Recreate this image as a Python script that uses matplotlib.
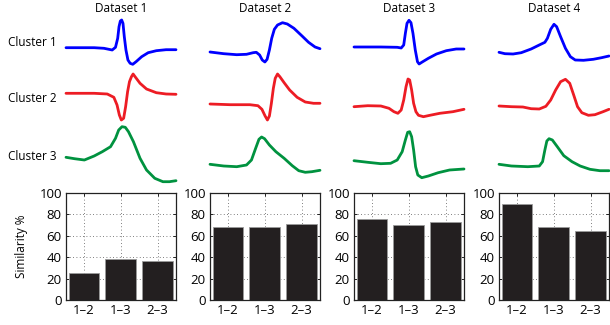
import matplotlib
matplotlib.use("Agg")
import matplotlib.pyplot as plt

plt.rcParams['font.family'] = ['Open Sans', 'DejaVu Sans']

datasets = ["Dataset 1", "Dataset 2", "Dataset 3", "Dataset 4"]
clusters = ["Cluster 1", "Cluster 2", "Cluster 3"]
pairs = ["1\u20132", "1\u20133", "2\u20133"]
cluster_colors = ["#0000ff", "#ed1c24", "#00923f"]

# Similarity between cluster pairs (%)
similarity = [
    [25.5, 38.0, 36.0],
    [68.0, 68.0, 71.0],
    [76.0, 70.5, 72.5],
    [90.0, 68.0, 64.5],
]

# Mean waveforms: time (% of window) and amplitude (a.u.)
d1_c1_t = [0, 25.6, 34.5, 42, 45, 47, 48.2, 49.4, 50.6, 51.8, 53, 54.5, 56.3, 58.3, 60.7, 63.7, 68.8, 74.7, 82.1, 91, 100]
d1_c1_a = [-5.7, -5.7, -6.3, -8, -5.3, 3.7, 15.3, 21, 22, 18.7, 5.3, -8, -18, -21.3, -22.3, -19.7, -14.7, -10.7, -8.7, -7.7, -7.7]
d1_c2_t = [0, 25.6, 37.5, 43.5, 46.4, 48.5, 50.3, 52.4, 54.2, 56, 57.7, 59.5, 61, 62.8, 67.3, 73.2, 82.1, 91, 100]
d1_c2_a = [3.7, 3.7, 3, -0.3, -8, -18, -23, -21.3, -9.7, 5.3, 15.3, 20.3, 23, 20.3, 13.7, 8, 4.3, 3, 2.7]
d1_c3_t = [0, 7.7, 16.7, 25.6, 33, 40.5, 45, 47.9, 50.9, 53.9, 56.8, 61.3, 67.3, 73.2, 80.7, 88.1, 94, 100]
d1_c3_a = [-2.3, -3.7, -5, -1, 3.3, 8.3, 16.7, 25, 28.3, 27.7, 23.3, 13.3, -3.3, -15, -23.3, -26.7, -26.7, -25.7]

d2_c1_t = [0, 12.5, 24.3, 33.2, 39.2, 42.1, 45.1, 47.5, 49.9, 51.9, 54, 56.1, 58.5, 61.4, 65.9, 70.3, 76.3, 83.7, 89.6, 95.5, 100]
d2_c1_a = [-10, -11.7, -12.7, -12.3, -10.7, -10.3, -13, -18, -20, -17.3, -8, 3.7, 12.7, 17, 19.3, 18, 13.7, 6, -0.3, -5, -6.7]
d2_c2_t = [0, 18.4, 36.2, 43.6, 47.2, 50.1, 52.2, 54, 55.8, 57.6, 59.3, 61.4, 63.5, 67.4, 72.4, 79.2, 86.6, 94.1, 100]
d2_c2_a = [-7, -7.7, -7.7, -8.7, -12.3, -19, -23, -19, -6.3, 8.7, 18.7, 23, 20.3, 14.3, 7, -0.3, -5, -6.3, -6.3]
d2_c3_t = [0, 12.5, 24.3, 33.2, 37.7, 41.5, 44.5, 46.9, 49.6, 54, 59.9, 67.4, 74.8, 80.7, 86.6, 92.6, 100]
d2_c3_a = [-9.3, -11, -11.7, -10, -5, 6.7, 15.7, 18, 16.3, 10, 3.3, -3.3, -10.7, -15.7, -17.3, -16.7, -15.3]

d3_c1_t = [0, 24.4, 39.3, 42.9, 45.2, 46.7, 48.2, 50, 51.8, 53.6, 55.7, 57.7, 59.2, 61.6, 67.6, 75, 83.9, 92.9, 100]
d3_c1_a = [-5, -5, -5.3, -6, -3, 8.7, 18.7, 21.7, 19.3, 8.7, -8, -19.7, -22, -20.3, -16.3, -12, -8.7, -7, -7]
d3_c2_t = [0, 12.5, 24.4, 31.8, 36.3, 39.9, 42.9, 45.2, 47.3, 49.1, 50.6, 52.4, 54.2, 56.3, 58.6, 63.1, 69, 78, 89.9, 100]
d3_c2_a = [-9.7, -8.7, -9, -11.3, -14.7, -16.3, -13, -3, 10.3, 18, 17, 7, -6.3, -14.7, -18.3, -19.7, -18.3, -16.3, -14.7, -12.3]
d3_c3_t = [0, 12.5, 24.4, 33.3, 39.3, 43.8, 46.7, 48.8, 50.6, 52.4, 54.2, 56, 58, 61.6, 67.6, 76.5, 86.9, 100]
d3_c3_a = [-5.7, -7.3, -8.7, -8.3, -5, 3.3, 15, 22.7, 23.3, 18.3, 5, -11.7, -20, -22.7, -21, -17.7, -15, -14]

d4_c1_t = [0, 5.4, 12.8, 20.2, 29.2, 36.6, 41.7, 44, 47, 50, 52.4, 56, 60.4, 64.9, 69.3, 76.8, 85.7, 93.2, 100]
d4_c1_a = [-10.3, -11.7, -12, -10.7, -7, -3, -0.3, 3.7, 12.7, 17.7, 15.3, 5.3, -6.3, -14.7, -18, -18.3, -17.3, -15.7, -14]
d4_c2_t = [0, 11.3, 21.7, 29.2, 36.6, 42.6, 47, 51.5, 56, 60.4, 64.3, 67.9, 71.4, 75.3, 81.3, 87.2, 94.6, 100]
d4_c2_a = [-9, -9.7, -10, -11.7, -12, -9.3, -3, 7, 15.3, 17.7, 13.7, 2, -9.7, -15.7, -18.3, -17.7, -14.7, -12.3]
d4_c3_t = [0, 11.3, 26.2, 36.6, 39.6, 41.7, 43.5, 45.5, 48.5, 53, 58.9, 66.4, 73.8, 82.7, 91.7, 100]
d4_c3_a = [-9.3, -11, -11.7, -11, -6.7, 5, 14, 16.3, 15, 8.3, -0.7, -6.7, -11, -14.3, -15.7, -15.7]

waveforms = [
    [(d1_c1_t, d1_c1_a), (d1_c2_t, d1_c2_a), (d1_c3_t, d1_c3_a)],
    [(d2_c1_t, d2_c1_a), (d2_c2_t, d2_c2_a), (d2_c3_t, d2_c3_a)],
    [(d3_c1_t, d3_c1_a), (d3_c2_t, d3_c2_a), (d3_c3_t, d3_c3_a)],
    [(d4_c1_t, d4_c1_a), (d4_c2_t, d4_c2_a), (d4_c3_t, d4_c3_a)],
]

W, H = 610, 325
fig = plt.figure(figsize=(W / 100, H / 100), dpi=100)

col_left = [66, 210, 354, 499]
col_width = 110
row_center = [42, 97, 155]
row_height = 58
bar_top, bar_bottom = 193, 300


def rect(x0, y0, w, h):
    return [x0 / W, 1 - (y0 + h) / H, w / W, h / H]


label_fs = 8.5
tick_fs = 9.5
for c in range(4):
    for r in range(3):
        ax = fig.add_axes(rect(col_left[c], row_center[r] - row_height / 2, col_width, row_height))
        t, a = waveforms[c][r]
        ax.plot(t, a, color=cluster_colors[r], lw=2.0, solid_joinstyle='round',
                solid_capstyle='round', clip_on=False)
        ax.set_xlim(0, 100)
        ax.set_ylim(-row_height / 2, row_height / 2)
        ax.axis('off')
    fig.text((col_left[c] + col_width / 2) / W, 1 - 9 / H, datasets[c],
             ha='center', va='center', fontsize=label_fs)

for r in range(3):
    fig.text(8 / W, 1 - (row_center[r] + 1) / H, clusters[r], ha='left', va='center', fontsize=label_fs)

for c in range(4):
    ax = fig.add_axes(rect(col_left[c], bar_top, col_width, bar_bottom - bar_top))
    x = [1, 2, 3]
    ax.bar(x, similarity[c], width=0.82, color="#231f20", edgecolor="#9a9a9a", linewidth=0.6, zorder=2)
    ax.set_xlim(0.52, 3.5)
    ax.set_ylim(0, 100)
    ax.set_yticks([0, 20, 40, 60, 80, 100])
    ax.set_xticks(x)
    ax.set_xticklabels(pairs)
    ax.grid(True, linestyle=(0, (1, 3)), color="#555555", linewidth=0.6, zorder=0)
    ax.tick_params(direction='in', length=2, width=0.6, labelsize=tick_fs, pad=3, top=True, right=True)
    for s in ax.spines.values():
        s.set_linewidth(0.9)
        s.set_color("#222222")
    if c == 0:
        ax.set_ylabel("Similarity %", fontsize=label_fs, labelpad=8)

fig.savefig("out.png", dpi=100)
